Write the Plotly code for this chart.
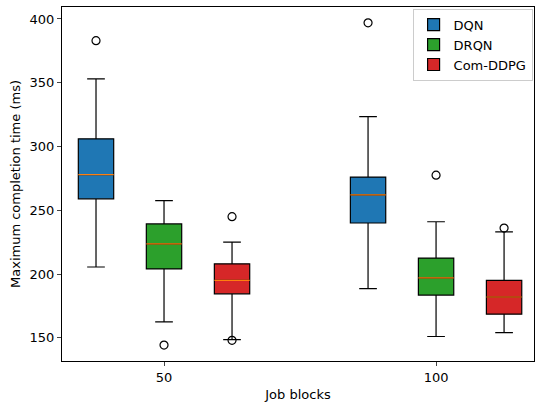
import plotly.graph_objects as go

groups = ["50", "100"]
group_pos = [0, 1]
methods = ["DQN", "DRQN", "Com-DDPG"]
colors = ["#1f77b4", "#2ca02c", "#d62728"]
offsets = [-0.25, 0.0, 0.25]

# stats per method: [group 50, group 100]
upper = {"DQN": [353, 323.5], "DRQN": [257.5, 241], "Com-DDPG": [225, 233]}
q3 = {"DQN": [306, 276], "DRQN": [239.3, 212.5], "Com-DDPG": [208, 195]}
median = {"DQN": [278, 262], "DRQN": [223.7, 197], "Com-DDPG": [195, 182]}
q1 = {"DQN": [259, 240], "DRQN": [204, 183.5], "Com-DDPG": [184.5, 168.5]}
lower = {"DQN": [205.5, 188.5], "DRQN": [162.5, 151], "Com-DDPG": [148.5, 154]}
outliers = {"DQN": [[383], [397]], "DRQN": [[144.3], [277.5]], "Com-DDPG": [[245, 148], [236]]}

box_w = 0.13
font = dict(family="DejaVu Sans", size=13, color="black")

fig = go.Figure()
for m, c, off in zip(methods, colors, offsets):
    xs = [g + off for g in group_pos]
    fig.add_trace(go.Box(
        name=m, x=xs, q1=q1[m], median=median[m], q3=q3[m],
        lowerfence=lower[m], upperfence=upper[m],
        fillcolor=c, line=dict(color="black", width=1.2),
        width=box_w, whiskerwidth=0.5, boxpoints=False, showlegend=True,
    ))
for m, c, off in zip(methods, colors, offsets):
    for gi, g in enumerate(group_pos):
        x0 = g + off
        fig.add_trace(go.Scatter(
            x=[x0 - box_w / 2, x0 + box_w / 2], y=[median[m][gi]] * 2,
            mode="lines", line=dict(color="#ff7f0e", width=1.2),
            showlegend=False, hoverinfo="skip"))
        ol = outliers[m][gi]
        fig.add_trace(go.Scatter(
            x=[x0] * len(ol), y=ol, mode="markers",
            marker=dict(symbol="circle-open", size=8, color="black", line=dict(width=1.2)),
            showlegend=False))

fig.update_layout(
    width=535, height=404,
    margin=dict(l=62, r=1, t=7, b=43),
    plot_bgcolor="white", paper_bgcolor="white",
    boxmode="overlay",
    font=font,
    legend=dict(x=0.997, y=0.995, xanchor="right", yanchor="top",
                bordercolor="#cccccc", borderwidth=1, bgcolor="rgba(255,255,255,0.8)",
                font=dict(family="DejaVu Sans", size=13), tracegroupgap=0,
                itemwidth=30),
    xaxis=dict(range=[-0.375, 1.36], tickvals=group_pos, ticktext=groups,
               showline=True, linecolor="black", linewidth=1, mirror=True,
               ticks="outside", ticklen=4, showgrid=False, zeroline=False,
               automargin=False, tickfont=dict(size=13),
               title=dict(text="Job blocks", standoff=6, font=dict(size=13))),
    yaxis=dict(range=[131.8, 409.4], tickvals=[150, 200, 250, 300, 350, 400],
               showline=True, linecolor="black", linewidth=1, mirror=True,
               ticks="outside", ticklen=4, showgrid=False, zeroline=False,
               automargin=False, tickfont=dict(size=13),
               title=dict(text="Maximum completion time (ms)", standoff=6, font=dict(size=13))),
)
fig.write_html("out.html", post_script="document.body.style.margin='0';",
               config={"displayModeBar": False})
